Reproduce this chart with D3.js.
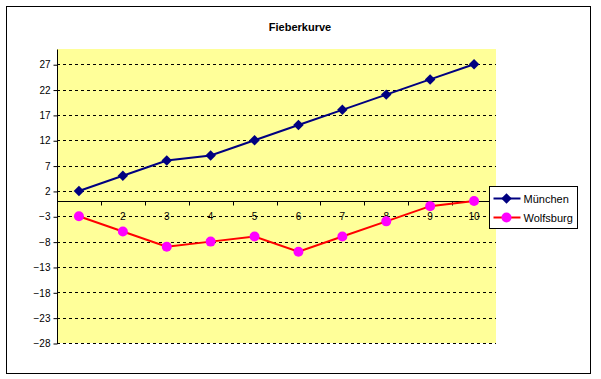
<!DOCTYPE html>
<html lang="de">
<head>
<meta charset="utf-8">
<title>Fieberkurve</title>
<script src="https://d3js.org/d3.v7.min.js"></script>
<style>
  body { margin: 0; background: #fff; }
  text { font-family: Arial, "Liberation Sans", sans-serif; }
</style>
</head>
<body>
<div id="chart"></div>
<script>
var tage = [1, 2, 3, 4, 5, 6, 7, 8, 9, 10]
var muenchen = [2, 5, 8, 9, 12, 15, 18, 21, 24, 27]
var wolfsburg = [-3, -6, -9, -8, -7, -10, -7, -4, -1, 0]
var yTicks = [27, 22, 17, 12, 7, 2, -3, -8, -13, -18, -23, -28]

var width = 601, height = 379
var plot = { left: 57, right: 496, top: 49, bottom: 343 }

var svg = d3.select("#chart").append("svg")
    .attr("width", width)
    .attr("height", height)

// outer chart border
svg.append("rect")
    .attr("x", 6.5).attr("y", 6.5)
    .attr("width", 584).attr("height", 367)
    .attr("fill", "#fff")
    .attr("stroke", "#000")
    .attr("stroke-width", 1)

svg.append("text")
    .attr("x", 300).attr("y", 31)
    .attr("text-anchor", "middle")
    .style("font-size", "11px")
    .style("font-weight", "bold")
    .text("Fieberkurve")

var x = d3.scaleBand().domain(tage).range([plot.left, plot.right])
var y = d3.scaleLinear().domain([-28, 30]).range([plot.bottom, plot.top])

// plot background
svg.append("rect")
    .attr("x", plot.left).attr("y", plot.top)
    .attr("width", plot.right - plot.left)
    .attr("height", plot.bottom - plot.top)
    .attr("fill", "#ffff99")

// dashed gridlines
svg.append("g")
    .selectAll("line")
    .data(yTicks)
    .enter()
    .append("line")
    .attr("x1", plot.left).attr("x2", plot.right)
    .attr("y1", function (d) { return Math.round(y(d)) + 0.5 })
    .attr("y2", function (d) { return Math.round(y(d)) + 0.5 })
    .attr("stroke", "#000")
    .attr("stroke-dasharray", "3,3")

// y axis
var yAxis = svg.append("g")
    .attr("transform", "translate(" + (plot.left + 0.5) + ",0.5)")
    .call(d3.axisLeft(y).tickValues(yTicks).tickSize(4).tickSizeOuter(0).tickPadding(3))
yAxis.select(".domain").attr("d", "M0," + plot.top + "V" + plot.bottom)
yAxis.selectAll("text").style("font-size", "10px").attr("fill", "#000")

// x axis at zero, ticks between categories
var y0 = Math.round(y(0)) + 0.5
var xAxis = svg.append("g")
svg.append("line")
    .attr("x1", plot.left).attr("x2", plot.right)
    .attr("y1", y0).attr("y2", y0)
    .attr("stroke", "#000")
xAxis.selectAll("line")
    .data(tage)
    .enter()
    .append("line")
    .attr("x1", function (d) { return Math.round(x(d) + x.bandwidth()) + 0.5 })
    .attr("x2", function (d) { return Math.round(x(d) + x.bandwidth()) + 0.5 })
    .attr("y1", y0).attr("y2", y0 + 4)
    .attr("stroke", "#000")
xAxis.selectAll("text")
    .data(tage)
    .enter()
    .append("text")
    .attr("x", function (d) { return x(d) + x.bandwidth() / 2 })
    .attr("y", y0 + 18)
    .attr("text-anchor", "middle")
    .style("font-size", "10px")
    .text(function (d) { return d })

var line = d3.line()
    .x(function (d, i) { return x(tage[i]) + x.bandwidth() / 2 })
    .y(function (d) { return y(d) })

svg.append("path")
    .datum(muenchen)
    .attr("d", line)
    .attr("fill", "none")
    .attr("stroke", "#000080")
    .attr("stroke-width", 2)

svg.append("path")
    .datum(wolfsburg)
    .attr("d", line)
    .attr("fill", "none")
    .attr("stroke", "#ff0000")
    .attr("stroke-width", 2)

var diamond = d3.symbol().type(d3.symbolDiamond2).size(70)

svg.append("g")
    .selectAll("path")
    .data(muenchen)
    .enter()
    .append("path")
    .attr("d", diamond)
    .attr("transform", function (d, i) { return "translate(" + (x(tage[i]) + x.bandwidth() / 2) + "," + y(d) + ")" })
    .attr("fill", "#000080")

svg.append("g")
    .selectAll("circle")
    .data(wolfsburg)
    .enter()
    .append("circle")
    .attr("cx", function (d, i) { return x(tage[i]) + x.bandwidth() / 2 })
    .attr("cy", function (d) { return y(d) })
    .attr("r", 5)
    .attr("fill", "#ff00ff")

// legend
var legend = svg.append("g").attr("transform", "translate(489.5,186.5)")
legend.append("rect")
    .attr("width", 88).attr("height", 42)
    .attr("fill", "#fff")
    .attr("stroke", "#000")

var series = [
    { name: "München", color: "#000080", mark: "diamond" },
    { name: "Wolfsburg", color: "#ff0000", mark: "circle" }
]
series.forEach(function (s, i) {
    var ly = 12 + i * 19
    legend.append("line")
        .attr("x1", 4).attr("x2", 31)
        .attr("y1", ly).attr("y2", ly)
        .attr("stroke", s.color)
        .attr("stroke-width", 2)
    if (s.mark == "diamond") {
        legend.append("path")
            .attr("d", diamond)
            .attr("transform", "translate(17," + ly + ")")
            .attr("fill", "#000080")
    } else {
        legend.append("circle")
            .attr("cx", 17).attr("cy", ly).attr("r", 5)
            .attr("fill", "#ff00ff")
    }
    legend.append("text")
        .attr("x", 34).attr("y", ly + 4)
        .style("font-size", "11px")
        .text(s.name)
})
</script>
</body>
</html>
